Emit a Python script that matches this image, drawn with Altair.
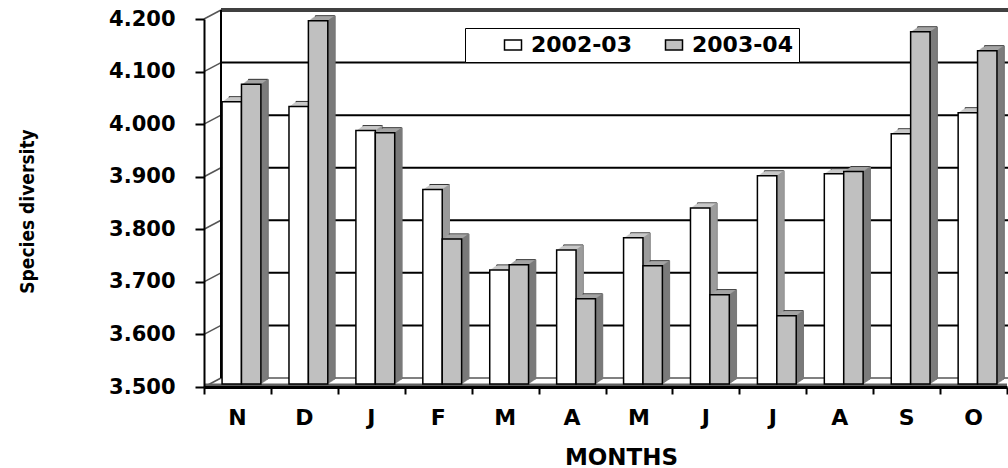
import altair as alt
import pandas as pd

# ---------------- data ----------------
months = ["N", "D", "J", "F", "M", "A", "M", "J", "J", "A", "S", "O"]
series = ["2002-03", "2003-04"]
div_2002_03 = [4.037, 4.028, 3.982, 3.870, 3.717, 3.755, 3.778, 3.835, 3.896, 3.900, 3.976, 4.016]
div_2003_04 = [4.070, 4.191, 3.978, 3.776, 3.727, 3.662, 3.725, 3.670, 3.630, 3.904, 4.170, 4.134]
y_ticks = [3.5, 3.6, 3.7, 3.8, 3.9, 4.0, 4.1, 4.2]

# ---------------- styling constants ----------------
BASE = 3.5
GROUP_START = 0.27   # fraction of a month slot before the first bar
BAR_W = 0.29         # bar width in month-slot units
WALL_DX, WALL_DY = 17, 9  # depth of back wall (px)
BAR_DX, BAR_DY = 7, 5     # depth of each bar (px)
BAR_SHIFT = 3             # bars sit slightly behind the front axis
FRONT = {0: "#ffffff", 1: "#c0c0c0"}
TOP = {0: "#c8c8c8", 1: "#a4a4a4"}
SIDE = {0: "#9a9a9a", 1: "#7a7a7a"}
FONT = "DejaVu Sans"

rows = []
for s_idx, vals in enumerate([div_2002_03, div_2003_04]):
    for i, v in enumerate(vals):
        x0 = i + GROUP_START + s_idx * BAR_W
        rows.append(dict(series=series[s_idx], s=s_idx, i=i, month=months[i],
                         v=v, base=BASE, x0=x0, x1=x0 + BAR_W))
bars = pd.DataFrame(rows)
grid = pd.DataFrame({"v": y_ticks, "a": 0, "b": len(months)})
wall = pd.DataFrame({"a": [0], "lo": [y_ticks[0]], "hi": [y_ticks[-1]]})
month_df = pd.DataFrame({"month": months, "xc": [i + 0.5 for i in range(len(months))],
                         "base": BASE})

xscale = alt.Scale(domain=[0, len(months)], nice=False, zero=False)
yscale = alt.Scale(domain=[y_ticks[0], y_ticks[-1]], nice=False, zero=False)

xaxis = alt.Axis(
    values=list(range(0, len(months) + 1)), labels=False,
    tickSize=7, tickWidth=2, tickColor="black",
    domainColor="black", domainWidth=3, grid=False,
    title="MONTHS", titleFont=FONT, titleFontSize=23, titleFontWeight="bold",
    titleColor="black", titleX=417, titleY=70, titleAlign="center", titleBaseline="middle",
    zindex=1,
)
yaxis = alt.Axis(
    values=y_ticks, format=".3f",
    labelFont=FONT, labelFontSize=21, labelFontWeight="bold", labelColor="black",
    labelPadding=20, tickSize=9, tickWidth=2, tickColor="black",
    domainColor="black", domainWidth=2, grid=False,
    title="Species diversity", titleFont="DejaVu Sans Condensed, Liberation Sans",
    titleFontSize=19, titleFontWeight="bold", titleColor="black", titleAngle=270,
    titleX=-177, titleY=192, titleAlign="center", titleBaseline="middle",
    zindex=1,
)

# back-wall grid lines
grid_mid = alt.Chart(grid).transform_filter("datum.v > 3.55 && datum.v < 4.15").mark_rule(
    color="black", strokeWidth=2, xOffset=WALL_DX, x2Offset=WALL_DX, yOffset=-WALL_DY
).encode(x=alt.X("a:Q", scale=xscale, axis=xaxis), x2="b:Q",
         y=alt.Y("v:Q", scale=yscale, axis=yaxis))
grid_top = alt.Chart(grid).transform_filter("datum.v > 4.15").mark_rule(
    color="#404040", strokeWidth=4, xOffset=WALL_DX, x2Offset=WALL_DX, yOffset=-WALL_DY
).encode(x=alt.X("a:Q"), x2="b:Q", y=alt.Y("v:Q"))
grid_floor = alt.Chart(grid).transform_filter("datum.v < 3.55").mark_rule(
    color="#808080", strokeWidth=2, xOffset=WALL_DX, x2Offset=WALL_DX, yOffset=-WALL_DY
).encode(x=alt.X("a:Q"), x2="b:Q", y=alt.Y("v:Q"))
diag = alt.Chart(grid).mark_rule(
    color="#555555", strokeWidth=1.5, x2Offset=WALL_DX, y2Offset=-WALL_DY
).encode(x=alt.X("a:Q"), x2="a:Q", y=alt.Y("v:Q"), y2="v:Q")
left_wall = alt.Chart(wall).mark_rule(
    color="black", strokeWidth=2, xOffset=WALL_DX, yOffset=-WALL_DY, y2Offset=-WALL_DY
).encode(x=alt.X("a:Q"), y=alt.Y("lo:Q"), y2="hi:Q")
floor_band = alt.Chart(grid).transform_filter("datum.v < 3.55").mark_rule(
    color="#606060", strokeWidth=3, yOffset=-2
).encode(x=alt.X("a:Q"), x2="b:Q", y=alt.Y("v:Q"))
month_labels = alt.Chart(month_df).mark_text(
    font=FONT, fontSize=22, fontWeight="bold", color="black",
    align="center", baseline="middle", dy=31
).encode(x=alt.X("xc:Q"), y=alt.Y("base:Q"), text="month:N")

layers = [grid_mid, grid_top, grid_floor, diag, left_wall, floor_band, month_labels]

legend = alt.Legend(
    title=None, orient="none", legendX=261, legendY=9, direction="horizontal",
    fillColor="white", strokeColor="black", padding=6,
    symbolType="M-1,-0.6H1V0.6H-1Z", symbolSize=289,
    symbolStrokeColor="black", symbolStrokeWidth=1.5, symbolOffset=31,
    labelFont=FONT, labelFontSize=22, labelFontWeight="bold", labelColor="black",
    labelOffset=7, columnPadding=0,
)

for s_idx in (0, 1):
    src = alt.Chart(bars).transform_filter(f"datum.s == {s_idx}")
    # extruded body (top face colour)
    for k in range(BAR_DX, 0, -1):
        dy = k * BAR_DY / BAR_DX
        props = dict(color=TOP[s_idx], xOffset=k, x2Offset=k,
                     yOffset=-BAR_SHIFT - dy, y2Offset=-BAR_SHIFT - dy)
        if k == BAR_DX:
            props.update(stroke="#303030", strokeWidth=1)
        layers.append(src.mark_rect(**props).encode(
            x=alt.X("x0:Q"), x2="x1:Q", y=alt.Y("v:Q"), y2="base:Q"))
    # side face
    for k in range(1, BAR_DX + 1):
        dy = k * BAR_DY / BAR_DX
        layers.append(src.mark_rule(
            color=SIDE[s_idx], strokeWidth=1.5, xOffset=k,
            yOffset=-BAR_SHIFT - dy, y2Offset=-BAR_SHIFT - dy
        ).encode(x=alt.X("x1:Q"), y=alt.Y("v:Q"), y2="base:Q"))
    # front face
    layers.append(src.mark_rect(
        stroke="black", strokeWidth=1.5, yOffset=-BAR_SHIFT, y2Offset=-BAR_SHIFT
    ).encode(
        x=alt.X("x0:Q"), x2="x1:Q", y=alt.Y("v:Q"), y2="base:Q",
        fill=alt.Fill("series:N",
                      scale=alt.Scale(domain=series, range=[FRONT[0], FRONT[1]]),
                      legend=legend),
    ))

chart = alt.layer(*layers).properties(
    width=803, height=368,
    autosize=alt.AutoSizeParams(type="none"),
    padding={"left": 204, "top": 19, "right": 1, "bottom": 81},
    background="white",
).configure_view(stroke=None)

chart.save("out.html", embed_options={"renderer": "svg", "actions": False})
